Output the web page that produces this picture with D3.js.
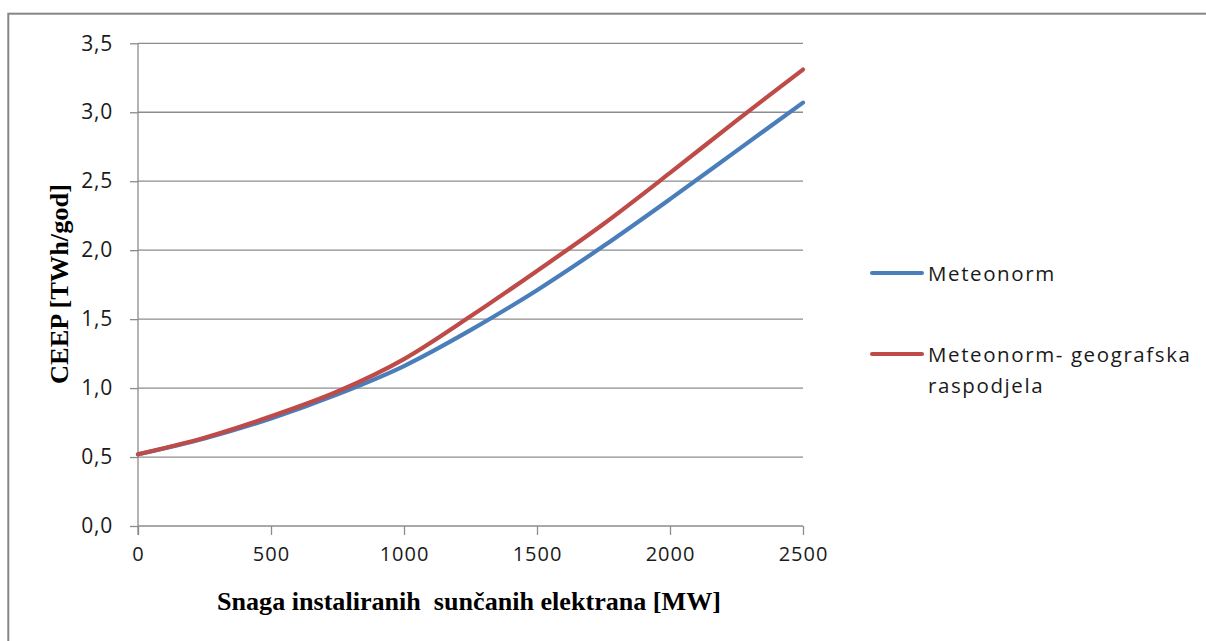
<!DOCTYPE html>
<html>
<head>
<meta charset="utf-8">
<script src="https://cdn.jsdelivr.net/npm/d3@7"></script>
<style>
  html, body { margin: 0; padding: 0; background: #fff; overflow: hidden; }
  svg { display: block; }
</style>
</head>
<body>
<div id="chart"></div>
<script>
// CEEP vs. instalirana snaga suncanih elektrana, dvije varijante Meteonorm podataka
const snagaMW = [0, 250, 500, 750, 1000, 1250, 1500, 1750, 2000, 2250, 2500];
const meteonorm = [0.52, 0.635, 0.78, 0.955, 1.16, 1.42, 1.71, 2.03, 2.37, 2.72, 3.07];
const geografska = [0.52, 0.64, 0.795, 0.975, 1.21, 1.52, 1.85, 2.19, 2.56, 2.94, 3.31];

const xTicks = [0, 500, 1000, 1500, 2000, 2500];
const yTicks = [0, 0.5, 1.0, 1.5, 2.0, 2.5, 3.0, 3.5];

const seriesNames = ['Meteonorm', 'Meteonorm- geografska raspodjela'];
const seriesColors = ['#4a7ebb', '#be4b48'];

const width = 1206, height = 641;
const margin = { top: 43.3, left: 138, right: 403, bottom: 115 };
const W = width - margin.left - margin.right;
const H = height - margin.top - margin.bottom;

const x = d3.scaleLinear().domain([0, 2500]).range([0, W]);
const y = d3.scaleLinear().domain([0, 3.5]).range([H, 0]);

const svg = d3.select('#chart').append('svg')
  .attr('width', width).attr('height', height);

// okvir grafikona
svg.append('rect')
  .attr('x', 8.3).attr('y', 13.7).attr('width', 1400).attr('height', 800)
  .attr('fill', 'none').attr('stroke', '#868686').attr('stroke-width', 2);

const g = svg.append('g').attr('transform', `translate(${margin.left},${margin.top})`);

// horizontalne linije mreze
g.selectAll('.grid').data(yTicks.slice(1)).join('line')
  .attr('class', 'grid')
  .attr('x1', 0).attr('x2', W)
  .attr('y1', d => y(d)).attr('y2', d => y(d))
  .attr('stroke', '#8c8c8c').attr('stroke-width', 1.3);

const axisColor = '#8c8c8c';
const tickFont = '"Open Sans", sans-serif';

const yAxis = g.append('g')
  .call(d3.axisLeft(y).tickValues(yTicks).tickSize(8).tickPadding(17)
    .tickFormat(d => d3.format('.1f')(d).replace('.', ',')));
yAxis.select('.domain').remove();
yAxis.selectAll('line').attr('stroke', axisColor).attr('stroke-width', 1.3);
yAxis.selectAll('text')
  .attr('font-family', tickFont).attr('font-size', 21)
  .attr('letter-spacing', 0.8).attr('fill', '#1a1a1a');

const xAxis = g.append('g').attr('transform', `translate(0,${H})`)
  .call(d3.axisBottom(x).tickValues(xTicks).tickSize(9).tickPadding(12)
    .tickFormat(d => String(d)));
xAxis.select('.domain').remove();
xAxis.selectAll('line').attr('stroke', axisColor).attr('stroke-width', 1.3);
xAxis.selectAll('text')
  .attr('font-family', tickFont).attr('font-size', 20)
  .attr('letter-spacing', 1).attr('fill', '#1a1a1a');

// osi
g.append('line').attr('x1', 0).attr('x2', 0).attr('y1', 0).attr('y2', H + 9)
  .attr('stroke', axisColor).attr('stroke-width', 1.3);
g.append('line').attr('x1', 0).attr('x2', W).attr('y1', H).attr('y2', H)
  .attr('stroke', axisColor).attr('stroke-width', 1.3);

// krivulje
const line = d3.line()
  .x((d, i) => x(snagaMW[i]))
  .y(d => y(d))
  .curve(d3.curveMonotoneX);

[meteonorm, geografska].forEach((vals, i) => {
  g.append('path').datum(vals)
    .attr('d', line)
    .attr('fill', 'none')
    .attr('stroke', seriesColors[i])
    .attr('stroke-width', 4.2)
    .attr('stroke-linejoin', 'round')
    .attr('stroke-linecap', 'round');
});

// naslovi osi
svg.append('text')
  .attr('x', 469).attr('y', 610)
  .attr('text-anchor', 'middle')
  .attr('font-family', '"Liberation Serif", "Times New Roman", serif')
  .attr('font-weight', 700).attr('font-size', 25.5)
  .attr('textLength', 504).attr('lengthAdjust', 'spacingAndGlyphs')
  .attr('fill', '#000')
  .style('white-space', 'pre')
  .text('Snaga instaliranih  sunčanih elektrana [MW]');

svg.append('text')
  .attr('transform', 'translate(68,284) rotate(-90)')
  .attr('text-anchor', 'middle')
  .attr('font-family', '"Liberation Serif", "Times New Roman", serif')
  .attr('font-weight', 700).attr('font-size', 26)
  .attr('textLength', 200).attr('lengthAdjust', 'spacingAndGlyphs')
  .attr('fill', '#000')
  .text('CEEP [TWh/god]');

// legenda
const legend = svg.append('g').attr('transform', 'translate(870,0)');
const legendRows = [
  { y: 273, lines: ['Meteonorm'] },
  { y: 354, lines: ['Meteonorm- geografska', 'raspodjela'] }
];
legendRows.forEach((row, i) => {
  legend.append('line')
    .attr('x1', 2).attr('x2', 52).attr('y1', row.y).attr('y2', row.y)
    .attr('stroke', seriesColors[i]).attr('stroke-width', 4)
    .attr('stroke-linecap', 'round');
  const t = legend.append('text')
    .attr('x', 58).attr('y', row.y + 8)
    .attr('font-family', tickFont).attr('font-size', 20.5)
    .attr('letter-spacing', 1.6).attr('fill', '#1a1a1a');
  row.lines.forEach((s, k) => {
    t.append('tspan').attr('x', 58).attr('dy', k === 0 ? 0 : 31).text(s);
  });
});
</script>
</body>
</html>
